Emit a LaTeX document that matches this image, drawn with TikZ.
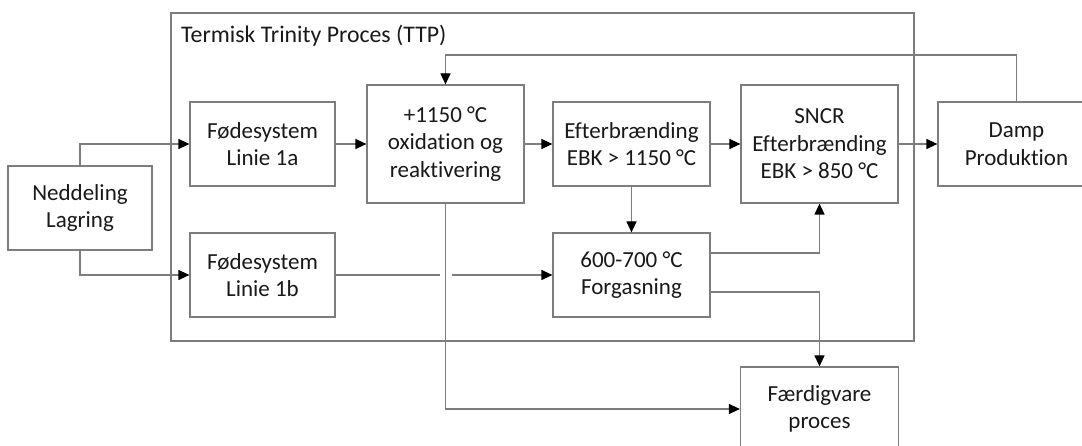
\documentclass[tikz,border=0pt]{standalone}
\usepackage{fontspec}
\setmainfont{Carlito}[Ligatures={NoCommon}]
\usetikzlibrary{arrows.meta}
\definecolor{lin}{RGB}{125,125,125}
\definecolor{txt}{RGB}{25,25,25}
\begin{document}
\begin{tikzpicture}[x=1pt,y=-1pt,
  box/.style={draw=lin,line width=1.2pt,rectangle,align=center,inner sep=0pt,
    font=\fontsize{23}{27.5}\selectfont,text=txt},
  conn/.style={draw=lin,line width=1.2pt},
  arr/.style={conn,-{Triangle[length=11pt,width=10pt,color=black]}}]
\useasboundingbox (0,0) rectangle (1082,446);
\fill[white] (0,0) rectangle (1082,446);
% outer frame
\node[draw=lin,line width=1.2pt,minimum width=743pt,minimum height=328pt,inner sep=0pt] (ttp) at (542.5,177) {};
\node[anchor=base west,inner sep=0pt,font=\fontsize{23.8}{27.5}\selectfont,text=txt] (title) at (181,43) {Termisk Trinity Proces (TTP)};
% boxes
\node[box,minimum width=144pt,minimum height=84pt] (ned) at (80,208) {Neddeling\\Lagring};
\node[box,minimum width=145pt,minimum height=84pt] (f1a) at (262.5,144) {Fødesystem\\Linie 1a};
\node[box,minimum width=145pt,minimum height=84pt] (f1b) at (262.5,275) {Fødesystem\\Linie 1b};
\node[box,minimum width=157pt,minimum height=118pt] (ox) at (445.5,144) {+1150 °C\\oxidation og\\reaktivering};
\node[box,minimum width=157pt,minimum height=84pt] (eft) at (631.5,144) {Efterbrænding\\EBK > 1150 °C};
\node[box,minimum width=157pt,minimum height=84pt] (forg) at (631.5,275) {600-700 °C\\Forgasning};
\node[box,minimum width=157pt,minimum height=118pt] (sncr) at (819.5,144) {SNCR\\Efterbrænding\\EBK > 850 °C};
\node[box,minimum width=157pt,minimum height=84pt] (damp) at (1016.5,144) {Damp\\Produktion};
\node[box,minimum width=158pt,minimum height=84pt] (faerd) at (819.5,409) {Færdigvare\\proces};
% helper coordinates
\coordinate (g1) at (440,275);
\coordinate (g2) at (452,275);
\coordinate (fa) at (710,253);
\coordinate (fb) at (710,292);
\coordinate (top) at (445.5,55);
% connectors
\draw[arr] (ned.north) |- (f1a.west);
\draw[arr] (ned.south) |- (f1b.west);
\draw[arr] (f1a.east) -- (ox.west);
\draw[arr] (ox.east) -- (eft.west);
\draw[arr] (eft.east) -- (sncr.west);
\draw[arr] (sncr.east) -- (damp.west);
\draw[arr] (eft.south) -- (forg.north);
\draw[conn] (f1b.east) -- (g1);
\draw[arr] (g2) -- (forg.west);
\draw[arr] (ox.south) |- (faerd.west);
\draw[arr] (fa) -| (sncr.south);
\draw[arr] (fb) -| (faerd.north);
\draw[arr] (damp.north) |- (top) -- (ox.north);
\end{tikzpicture}
\end{document}
